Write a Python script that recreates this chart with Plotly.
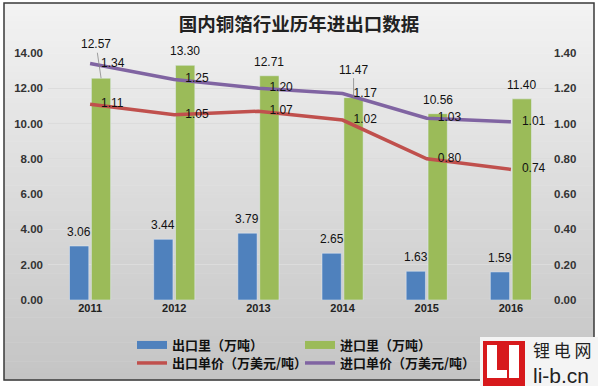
import plotly.graph_objects as go

# ---- data ----
years = ["2011", "2012", "2013", "2014", "2015", "2016"]
export_qty = [3.06, 3.44, 3.79, 2.65, 1.63, 1.59]          # 出口量（万吨）
import_qty = [12.57, 13.30, 12.71, 11.47, 10.56, 11.40]    # 进口量（万吨）
export_price = [1.11, 1.05, 1.07, 1.02, 0.80, 0.74]        # 出口单价（万美元/吨）
import_price = [1.34, 1.25, 1.20, 1.17, 1.03, 1.01]        # 进口单价（万美元/吨）

names = ["出口里（万吨）", "进口里（万吨）", "出口单价（万美元/吨）", "进口单价（万美元/吨）"]
title_text = "国内铜箔行业历年进出口数据"

BLUE, GREEN, RED, PURPLE = "#4F81BD", "#9BBB59", "#C0504D", "#8064A2"
W, H = 598, 386
ML, MR, MT, MB = 48, 45, 53, 86
PW, PH = W - ML - MR, H - MT - MB

def px(x):
    return (x - ML) / PW

def py(y):
    return (H - MB - y) / PH

CJK = "Noto Sans CJK SC"
NUM = "Liberation Sans"

fig = go.Figure()

fig.add_trace(go.Bar(x=years, y=export_qty, name=names[0], marker_color=BLUE,
                     showlegend=False, hoverinfo="skip"))
fig.add_trace(go.Bar(x=years, y=import_qty, name=names[1], marker_color=GREEN,
                     showlegend=False, hoverinfo="skip"))

# legend proxies (wide colour swatches like the original)
fig.add_trace(go.Scatter(x=[years[0]], y=[None], mode="lines", name=names[0],
                         line=dict(color=BLUE, width=8), legend="legend"))
fig.add_trace(go.Scatter(x=[years[0]], y=[None], mode="lines", name=names[1],
                         line=dict(color=GREEN, width=8), legend="legend"))

fig.add_trace(go.Scatter(x=years, y=export_price, name=names[2], yaxis="y2",
                         mode="lines+markers+text", line=dict(color=RED, width=3.5),
                         marker=dict(size=16, color="rgba(0,0,0,0)"),
                         text=[f"{v:.2f}" for v in export_price], textposition="middle right",
                         textfont=dict(family=NUM, size=12, color="#111"),
                         legend="legend2", cliponaxis=False, hoverinfo="skip"))
fig.add_trace(go.Scatter(x=years, y=import_price, name=names[3], yaxis="y2",
                         mode="lines+markers+text", line=dict(color=PURPLE, width=3.5),
                         marker=dict(size=16, color="rgba(0,0,0,0)"),
                         text=[f"{v:.2f}" for v in import_price], textposition="middle right",
                         textfont=dict(family=NUM, size=12, color="#111"),
                         legend="legend2", cliponaxis=False, hoverinfo="skip"))

annotations = []
for i, v in enumerate(export_qty):
    annotations.append(dict(x=i, y=v, xref="x", yref="y", text=f"{v:.2f}", showarrow=False,
                            xshift=-11, yshift=14, font=dict(family=NUM, size=12, color="#111")))
leader = {0: (-5, -34), 3: (0, -28)}
for i, v in enumerate(import_qty):
    if i in leader:
        ax, ay = leader[i]
        annotations.append(dict(x=i, y=v, xref="x", yref="y", text=f"{v:.2f}", showarrow=True,
                                arrowhead=0, arrowwidth=0.8, arrowcolor="#888", ax=ax, ay=ay,
                                xshift=11, font=dict(family=NUM, size=12, color="#111")))
    else:
        annotations.append(dict(x=i, y=v, xref="x", yref="y", text=f"{v:.2f}", showarrow=False,
                                xshift=11, yshift=14, font=dict(family=NUM, size=12, color="#111")))

# watermark logo text
annotations.append(dict(xref="paper", yref="paper", x=px(531), y=py(349), xanchor="left",
                        yanchor="middle", text="锂 电 网", showarrow=False,
                        font=dict(family=CJK, size=17, color="#222")))
annotations.append(dict(xref="paper", yref="paper", x=px(531), y=py(375), xanchor="left",
                        yanchor="middle", text="li-b.cn", showarrow=False,
                        font=dict(family=NUM, size=21, color="#222")))

shapes = []
# gradient background
N = 60
top, bot = 3, 380
for i in range(N):
    y0 = top + (bot - top) * i / N
    y1 = top + (bot - top) * (i + 1) / N + 0.5
    c = int(round(243 - (243 - 196) * (i + 0.5) / N))
    shapes.append(dict(type="rect", xref="paper", yref="paper", x0=px(4), x1=px(594),
                       y0=py(y1), y1=py(y0), line=dict(width=0),
                       fillcolor=f"rgb({c},{c},{c})", layer="below"))
# border
shapes.append(dict(type="rect", xref="paper", yref="paper", x0=px(4), x1=px(594),
                   y0=py(380), y1=py(3), line=dict(color="#3a3a3a", width=1.5), layer="below"))
# logo
shapes.append(dict(type="rect", xref="paper", yref="paper", x0=px(480), x1=px(600),
                   y0=py(390), y1=py(337), line=dict(width=0), fillcolor="#f4f4f4", layer="above"))
shapes.append(dict(type="rect", xref="paper", yref="paper", x0=px(483), x1=px(525),
                   y0=py(390), y1=py(341), line=dict(width=0), fillcolor="#d7191c", layer="above"))
for (x0, x1, y0, y1) in [(487, 497, 345, 378), (487, 507, 370, 378), (509, 519, 345, 378)]:
    shapes.append(dict(type="rect", xref="paper", yref="paper", x0=px(x0), x1=px(x1),
                       y0=py(y1), y1=py(y0), line=dict(width=0), fillcolor="white", layer="above"))

tickfont = dict(family=NUM, size=11.5, color="#333", weight="bold")
legfont = dict(family=CJK, size=13, color="#111", weight="bold")

fig.update_layout(
    width=W, height=H,
    margin=dict(l=ML, r=MR, t=MT, b=MB),
    paper_bgcolor="white", plot_bgcolor="rgba(0,0,0,0)",
    title=dict(text=title_text, x=0.5, xref="container", xanchor="center",
               y=1 - 25 / H, yref="container", yanchor="middle",
               font=dict(family=CJK, size=18.5, color="#222", weight="bold")),
    barmode="group", bargap=0.48, bargroupgap=0.12,
    xaxis=dict(type="category", categoryorder="array", categoryarray=years,
               range=[-0.5, len(years) - 0.5], autorange=False,
               showgrid=False, showline=False, ticks="",
               tickfont=dict(family=NUM, size=11, color="#222", weight="bold")),
    yaxis=dict(range=[0, 14], dtick=2, tickformat=".2f", showgrid=True,
               gridcolor="#dcdcdc", gridwidth=1, zeroline=False, showline=False,
               tickfont=tickfont, ticklabelstandoff=4),
    yaxis2=dict(range=[0, 1.4], dtick=0.2, tickformat=".2f", overlaying="y", side="right",
                showgrid=False, zeroline=False, showline=False, tickfont=tickfont),
    legend=dict(orientation="h", xref="container", yref="container",
                x=132 / W, y=1 - 330 / H, xanchor="left", yanchor="top",
                entrywidth=123, entrywidthmode="pixels", bgcolor="rgba(0,0,0,0)",
                font=legfont, tracegroupgap=0, itemclick=False),
    legend2=dict(orientation="h", xref="container", yref="container",
                 x=132 / W, y=1 - 348 / H, xanchor="left", yanchor="top",
                 entrywidth=123, entrywidthmode="pixels", bgcolor="rgba(0,0,0,0)",
                 font=legfont, tracegroupgap=0, itemclick=False),
    shapes=shapes,
    annotations=annotations,
)

fig.write_html("out.html", post_script="document.body.style.margin='0';",
               config={"displayModeBar": False})
